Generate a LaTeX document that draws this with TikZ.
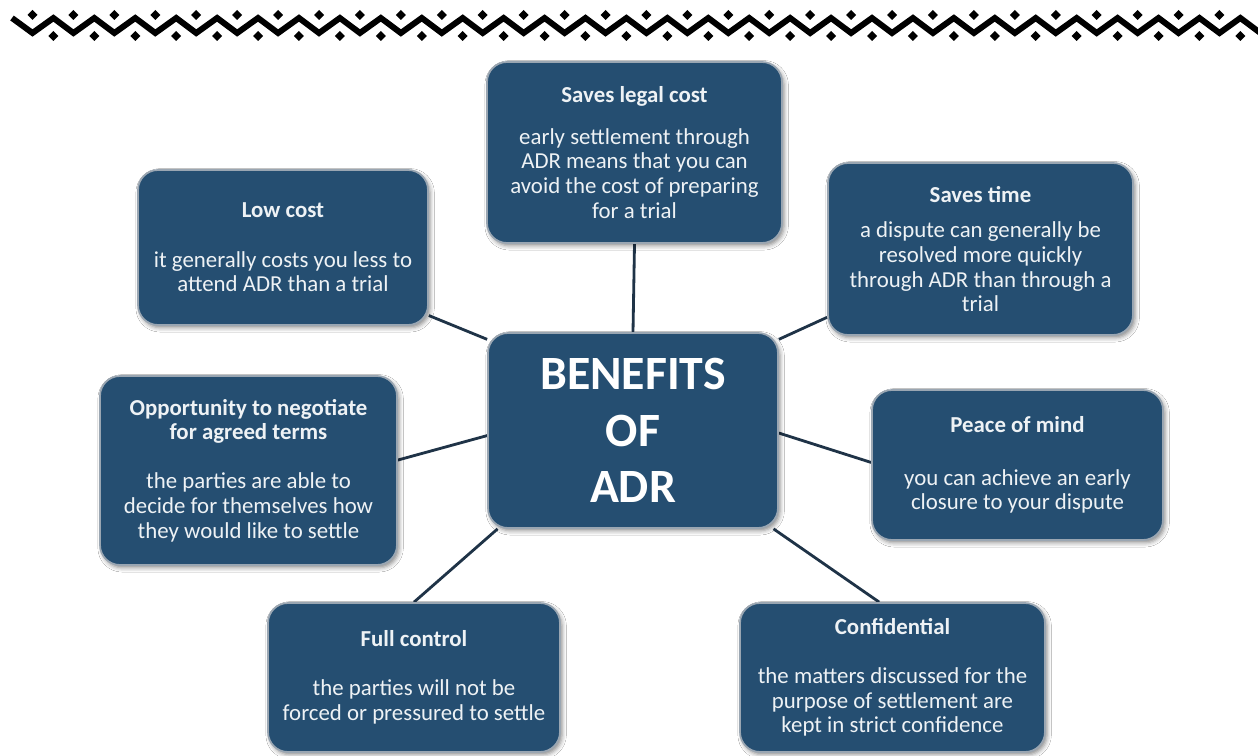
\documentclass[tikz,border=0pt]{standalone}
\usepackage{fontspec}
\setmainfont{Carlito}
\usepackage{xcolor}
\definecolor{mnavy}{HTML}{254E71}
\definecolor{mline}{HTML}{1F3347}
\definecolor{medge}{HTML}{9AA6B2}
\definecolor{mtext}{HTML}{EEF2F5}
\usepackage{tikz}
\usetikzlibrary{backgrounds,shadows.blur}

\tikzset{
    benefit/.style={rectangle, rounded corners=1cm, fill=mnavy, draw=medge,
        line width=2.5pt, text=mtext, align=center, inner sep=0pt,
        font=\fontsize{32.5}{35}\selectfont,
        blur shadow={shadow xshift=3pt, shadow yshift=-4pt,
            shadow blur radius=6pt, shadow opacity=45}},
    hub/.style={benefit, text=white, font=\bfseries\fontsize{68}{80}\selectfont},
    link/.style={mline, line width=4pt},
    zig/.style={black, line width=8.5pt, miter limit=10},
}

\begin{document}
\begin{tikzpicture}[x=0.05cm, y=-0.05cm]
        \useasboundingbox (0, 0) rectangle (1258, 756);

        % border strip along the top
        \draw[zig] (12, 18) \foreach \k in {0,...,30} { -- ({32.5+40.93*\k}, 33) -- ({53.4+40.93*\k}, 18) };
        \foreach \k in {0,...,29} {
            \fill[shift={({32.5+40.93*\k}, 15)}] (-5, 0) -- (0, -5) -- (5, 0) -- (0, 5) -- cycle;
            \fill[shift={({53.4+40.93*\k}, 36)}] (-5, 0) -- (0, -5) -- (5, 0) -- (0, 5) -- cycle;
        }

        \node[hub, minimum width=14.5cm, minimum height=9.75cm] (adr) at (633, 430.5)
            {BENEFITS\\OF\\ADR};

        \node[benefit, minimum width=14.75cm, minimum height=9.05cm] (legal) at (634.5, 152.5)
            {\textbf{Saves legal cost}\\[24pt]early settlement through\\ADR means that you can\\avoid the cost of preparing\\for a trial};
        \node[benefit, minimum width=14.5cm, minimum height=7.75cm] (low) at (283, 247.5)
            {\textbf{Low cost}\\[35pt]it generally costs you less to\\attend ADR than a trial};
        \node[benefit, minimum width=15.25cm, minimum height=8.6cm] (time) at (980.5, 249)
            {\textbf{Saves time}\\[16pt]a dispute can generally be\\resolved more quickly\\through ADR than through a\\trial};
        \node[benefit, minimum width=14.85cm, minimum height=9.45cm] (opp) at (248.5, 470.5)
            {\textbf{Opportunity to negotiate}\\\textbf{for agreed terms}\\[35pt]the parties are able to\\decide for themselves how\\they would like to settle};
        \node[benefit, minimum width=14.55cm, minimum height=7.5cm] (peace) at (1017.5, 465)
            {\textbf{Peace of mind}\\[40pt]you can achieve an early\\closure to your dispute};
        \node[benefit, minimum width=14.6cm, minimum height=7.45cm] (full) at (414, 677.5)
            {\textbf{Full control}\\[35pt]the parties will not be\\forced or pressured to settle};
        \node[benefit, minimum width=15.25cm, minimum height=7.45cm] (conf) at (892.5, 677.5)
            {\textbf{Confidential}\\[35pt]the matters discussed for the\\purpose of settlement are\\kept in strict confidence};

        % spokes run behind the boxes
        \begin{pgfonlayer}{background}
            \fill[white] (0, 0) rectangle (1258, 756);
            \draw[link] (legal.south) -- (adr.north);
            \draw[link] (low.-25) -- (adr.148);
            \draw[link] (time.204) -- (adr.32);
            \draw[link] (opp.4) -- (adr.182);
            \draw[link] (peace.179) -- (adr.-1);
            \draw[link] (full.north) -- (adr.216);
            \draw[link] (conf.100) -- (adr.-35);
        \end{pgfonlayer}
    \end{tikzpicture}
\end{document}
